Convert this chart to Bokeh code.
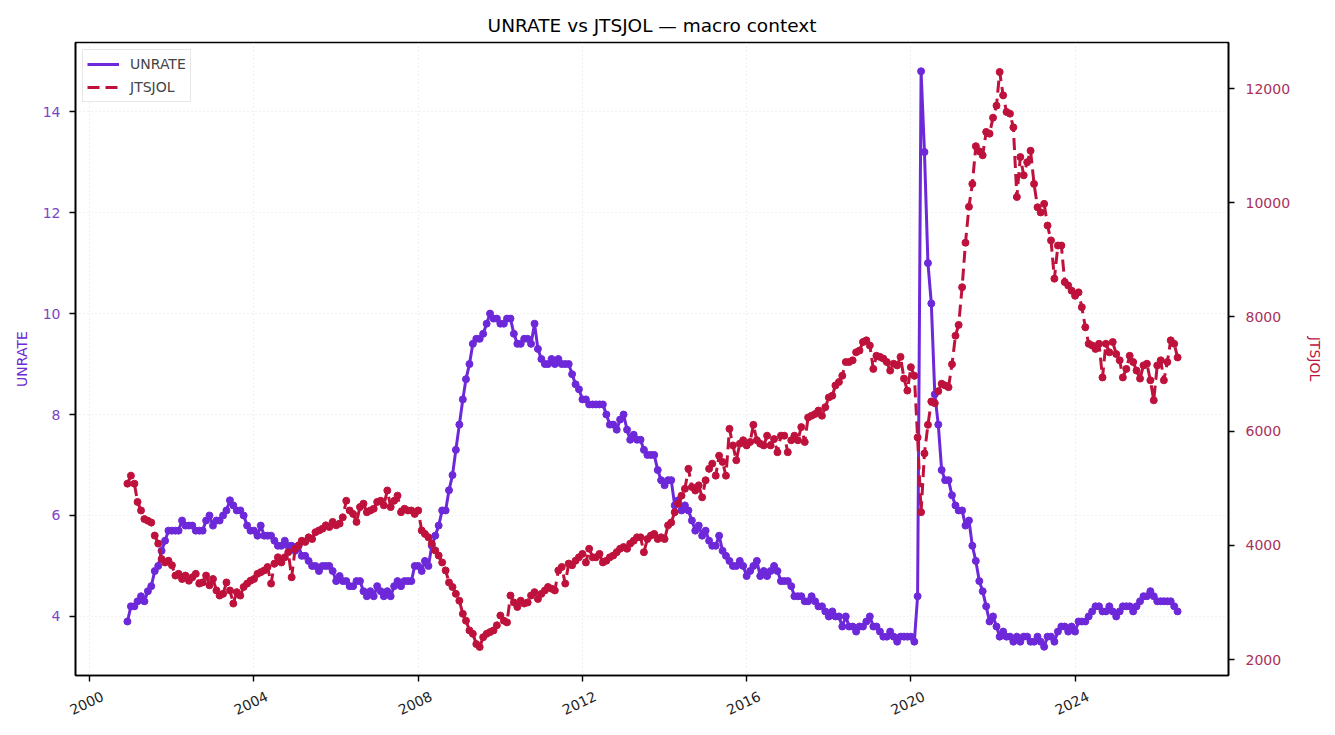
import pandas as pd

from bokeh.embed import file_html
from bokeh.models import (DatetimeAxis, DatetimeTickFormatter, FixedTicker,
                          LinearAxis, Range1d)
from bokeh.plotting import figure
from bokeh.resources import INLINE

# monthly values, Dec 2000 .. Jul 2026
unrate = [
    3.9,
    4.2, 4.2, 4.3, 4.4, 4.3, 4.5, 4.6, 4.9, 5.0, 5.3, 5.5, 5.7,
    5.7, 5.7, 5.7, 5.9, 5.8, 5.8, 5.8, 5.7, 5.7, 5.7, 5.9, 6.0,
    5.8, 5.9, 5.9, 6.0, 6.1, 6.3, 6.2, 6.1, 6.1, 6.0, 5.8, 5.7,
    5.7, 5.6, 5.8, 5.6, 5.6, 5.6, 5.5, 5.4, 5.4, 5.5, 5.4, 5.4,
    5.3, 5.4, 5.2, 5.2, 5.1, 5.0, 5.0, 4.9, 5.0, 5.0, 5.0, 4.9,
    4.7, 4.8, 4.7, 4.7, 4.6, 4.6, 4.7, 4.7, 4.5, 4.4, 4.5, 4.4,
    4.6, 4.5, 4.4, 4.5, 4.4, 4.6, 4.7, 4.6, 4.7, 4.7, 4.7, 5.0,
    5.0, 4.9, 5.1, 5.0, 5.4, 5.6, 5.8, 6.1, 6.1, 6.5, 6.8, 7.3,
    7.8, 8.3, 8.7, 9.0, 9.4, 9.5, 9.5, 9.6, 9.8, 10.0, 9.9, 9.9,
    9.8, 9.8, 9.9, 9.9, 9.6, 9.4, 9.4, 9.5, 9.5, 9.4, 9.8, 9.3,
    9.1, 9.0, 9.0, 9.1, 9.0, 9.1, 9.0, 9.0, 9.0, 8.8, 8.6, 8.5,
    8.3, 8.3, 8.2, 8.2, 8.2, 8.2, 8.2, 8.0, 7.8, 7.8, 7.7, 7.9,
    8.0, 7.7, 7.5, 7.6, 7.5, 7.5, 7.3, 7.2, 7.2, 7.2, 6.9, 6.7,
    6.6, 6.7, 6.7, 6.2, 6.3, 6.1, 6.2, 6.1, 5.9, 5.7, 5.8, 5.6,
    5.7, 5.5, 5.4, 5.4, 5.6, 5.3, 5.2, 5.1, 5.0, 5.0, 5.1, 5.0,
    4.8, 4.9, 5.0, 5.1, 4.8, 4.9, 4.8, 4.9, 5.0, 4.9, 4.7, 4.7,
    4.7, 4.6, 4.4, 4.4, 4.4, 4.3, 4.3, 4.4, 4.3, 4.2, 4.2, 4.1,
    4.0, 4.1, 4.0, 4.0, 3.8, 4.0, 3.8, 3.8, 3.7, 3.8, 3.8, 3.9,
    4.0, 3.8, 3.8, 3.7, 3.6, 3.6, 3.7, 3.6, 3.5, 3.6, 3.6, 3.6,
    3.6, 3.5, 4.4, 14.8, 13.2, 11.0, 10.2, 8.4, 7.8, 6.9, 6.7, 6.7,
    6.4, 6.2, 6.1, 6.1, 5.8, 5.9, 5.4, 5.1, 4.7, 4.5, 4.2, 3.9,
    4.0, 3.8, 3.6, 3.7, 3.6, 3.6, 3.5, 3.6, 3.5, 3.6, 3.6, 3.5,
    3.5, 3.6, 3.5, 3.4, 3.6, 3.6, 3.5, 3.7, 3.8, 3.8, 3.7, 3.8,
    3.7, 3.9, 3.9, 3.9, 4.0, 4.1, 4.2, 4.2, 4.1, 4.1, 4.2, 4.1,
    4.0, 4.1, 4.2, 4.2, 4.2, 4.1, 4.2, 4.3, 4.4, 4.4, 4.5, 4.4,
    4.3, 4.3, 4.3, 4.3, 4.3, 4.2, 4.1,
]

jtsjol = [
    5080, 5220, 5080, 4760, 4610, 4460, 4430, 4400, 4170, 4030, 3760, 3700,
    3730, 3650, 3470, 3500, 3410, 3470, 3380, 3440, 3500, 3330, 3350, 3470,
    3300, 3410, 3210, 3120, 3150, 3350, 3210, 2980, 3180, 3120, 3270, 3330,
    3380, 3410, 3500, 3530, 3560, 3620, 3330, 3680, 3790, 3700, 3790, 3880,
    3440, 3940, 4000, 4080, 4060, 4140, 4110, 4230, 4260, 4290, 4350, 4320,
    4410, 4350, 4380, 4490, 4780, 4610, 4550, 4410, 4670, 4730, 4580, 4610,
    4640, 4760, 4780, 4700, 4960, 4670, 4780, 4870, 4580, 4640, 4610, 4610,
    4550, 4610, 4260, 4200, 4140, 4030, 3910, 3820, 3700, 3560, 3350, 3270,
    3150, 3030, 2800, 2680, 2510, 2450, 2270, 2220, 2390, 2450, 2480, 2510,
    2600, 2770, 2680, 2650, 3120, 3000, 2920, 3030, 2980, 3000, 3120, 3180,
    3060, 3150, 3210, 3270, 3240, 3210, 3560, 3620, 3330, 3680, 3650, 3730,
    3790, 3850, 3700, 3940, 3790, 3790, 3850, 3700, 3730, 3790, 3820, 3880,
    3940, 3970, 3940, 4030, 4080, 4140, 4140, 3880, 4110, 4170, 4200, 4110,
    4140, 4110, 4350, 4400, 4580, 4730, 4870, 4990, 5340, 5020, 4960, 5050,
    4840, 5140, 5340, 5430, 5220, 5570, 5460, 5220, 6040, 5750, 5490, 5780,
    5840, 5750, 5810, 6110, 5840, 5780, 5750, 5920, 5750, 5860, 5630, 5920,
    5920, 5630, 5840, 5920, 5840, 6070, 5810, 6240, 6270, 6300, 6360, 6270,
    6420, 6590, 6620, 6800, 6860, 6970, 7210, 7210, 7240, 7380, 7410, 7560,
    7590, 7500, 7090, 7320, 7300, 7270, 7210, 7060, 7180, 7150, 7300, 6920,
    6710, 7120, 6970, 5890, 4580, 5610, 6110, 6520, 6490, 6700, 6830, 6800,
    6770, 7170, 7670, 7860, 8520, 9300, 9930, 10330, 10990, 10900, 10830, 11240,
    11210, 11490, 11700, 12290, 11880, 11590, 11560, 11320, 10100, 10800, 10480, 10710,
    10910, 10330, 9920, 9830, 9980, 9600, 9340, 8670, 9250, 9250, 8610, 8550,
    8460, 8370, 8430, 8170, 7820, 7530, 7500, 7440, 7530, 6940, 7530, 7380,
    7560, 7350, 7240, 6940, 7090, 7320, 7210, 7060, 6920, 7150, 7180, 6890,
    6540, 7150, 7240, 6890, 7210, 7590, 7530, 7290,
]

year_ticks = [2000, 2004, 2008, 2012, 2016, 2020, 2024]
left_ticks = [4, 6, 8, 10, 12, 14]
right_ticks = [2000, 4000, 6000, 8000, 10000, 12000]

dates = pd.date_range("2000-12-01", periods=len(unrate), freq="MS")

UN_COLOR = "#6d28d9"
JO_COLOR = "#be123c"
FONT = "DejaVu Sans"

x_start, x_end = pd.Timestamp("1999-08-27"), pd.Timestamp("2027-09-27")
# the slanted year labels sit on their own axis, nudged right so that each
# label is centred under its tick (Bokeh right-aligns rotated labels)
nudge = pd.Timedelta(days=116)

p = figure(width=1326, height=734, x_axis_type="datetime",
           output_backend="svg", toolbar_location=None,
           title="UNRATE vs JTSJOL \u2014 macro context",
           x_range=Range1d(x_start, x_end),
           y_range=Range1d(2.83, 15.37),
           min_border_left=75, min_border_right=98,
           min_border_top=42, min_border_bottom=59)
p.extra_y_ranges = {"jolts": Range1d(1720, 12806)}
p.extra_x_ranges = {"labels": Range1d(x_start - nudge, x_end - nudge)}

p.title.align = "center"
p.title.text_font = FONT
p.title.text_font_size = "18.5px"
p.title.text_font_style = "normal"
p.title.text_color = "black"
p.title.standoff = 14

p.outline_line_color = "black"
p.outline_line_width = 1.6
p.outline_line_alpha = 1

tick_ms = [pd.Timestamp(f"{y}-01-01").timestamp() * 1000 for y in year_ticks]
year_fmt = DatetimeTickFormatter(years="%Y", months="%Y", days="%Y")

xaxis = p.xaxis[0]
xaxis.ticker = FixedTicker(ticks=tick_ms)
xaxis.formatter = year_fmt
xaxis.major_label_text_alpha = 0
xaxis.major_label_text_font_size = "1px"
xaxis.major_label_standoff = 0
p.xgrid.ticker = FixedTicker(ticks=tick_ms)

p.yaxis.ticker = FixedTicker(ticks=left_ticks)
p.yaxis.axis_label = "UNRATE"
p.yaxis.axis_label_text_color = UN_COLOR
p.yaxis.major_label_text_color = "#7a45c4"

right = LinearAxis(y_range_name="jolts", ticker=FixedTicker(ticks=right_ticks),
                   axis_label="JTSJOL")
right.axis_label_text_color = JO_COLOR
right.major_label_text_color = "#a8325c"
p.add_layout(right, "right")

for ax in [xaxis, p.yaxis[0], right]:
    ax.axis_line_color = "black"
    ax.axis_line_width = 1.6
    ax.major_tick_line_color = "black"
    ax.major_tick_line_width = 1.4
    ax.major_tick_out = 6
    ax.major_tick_in = 0
    ax.minor_tick_line_color = None
    ax.axis_label_text_font = FONT
    ax.axis_label_text_font_size = "14px"
    ax.axis_label_text_font_style = "normal"
for ax in [p.yaxis[0], right]:
    ax.major_label_text_font = FONT
    ax.major_label_text_font_size = "14px"

p.yaxis.major_label_standoff = 9
p.yaxis.axis_label_standoff = 10
right.major_label_standoff = 11
right.axis_label_standoff = 14

year_axis = DatetimeAxis(x_range_name="labels", ticker=FixedTicker(ticks=tick_ms),
                         formatter=year_fmt, major_label_orientation=0.44,
                         axis_line_color=None, major_tick_line_color=None,
                         minor_tick_line_color=None, major_tick_out=0,
                         major_tick_in=0, major_label_standoff=14,
                         major_label_text_font=FONT,
                         major_label_text_font_size="14px",
                         major_label_text_color="#222222")
p.add_layout(year_axis, "below")

p.grid.grid_line_color = "#c8c8c8"
p.grid.grid_line_alpha = 0.5
p.grid.grid_line_dash = "1 3"

p.line(dates, unrate, color=UN_COLOR, line_width=3, legend_label="UNRATE")
p.scatter(dates, unrate, color=UN_COLOR, size=7)

p.line(dates, jtsjol, color=JO_COLOR, line_width=3, line_dash="12 6",
       y_range_name="jolts", legend_label="JTSJOL")
p.scatter(dates, jtsjol, color=JO_COLOR, size=7, y_range_name="jolts")

p.legend.location = "top_left"
p.legend.margin = 7
p.legend.padding = 4
p.legend.spacing = 3
p.legend.glyph_width = 32
p.legend.label_standoff = 11
p.legend.label_text_font = FONT
p.legend.label_text_font_size = "14px"
p.legend.border_line_color = "#d0d0d0"
p.legend.background_fill_alpha = 0.85

open("out.html", "w").write(file_html(p, INLINE))
